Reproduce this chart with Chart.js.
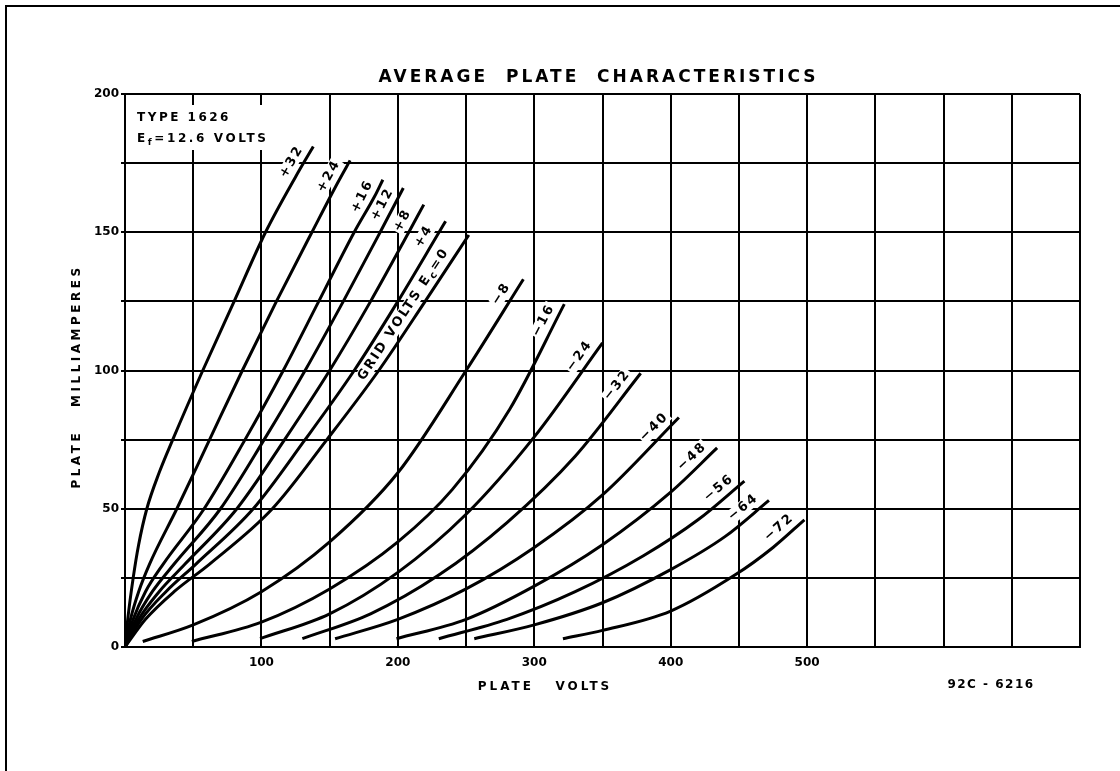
<!DOCTYPE html>
<html><head><meta charset="utf-8">
<script src="https://cdn.jsdelivr.net/npm/chart.js@4/dist/chart.umd.min.js"></script>
<style>html,body{margin:0;padding:0;background:#fff;}canvas{display:block;}</style>
</head><body>
<canvas id="c" width="1120" height="771"></canvas>
<script>
// ---- data ----
const plateVoltLabels = [100, 200, 300, 400, 500];
const plateMaLabels = [0, 50, 100, 150, 200];
const gridVoltLabels = ['+32','+24','+16','+12','+8','+4','0','-8','-16','-24','-32','-40','-48','-56','-64','-72'];

const v_p32 = [0, 2, 6, 10, 16, 25, 35, 57, 80, 103, 125, 138];
const i_p32 = [0, 10, 25, 37, 50, 63, 75, 100, 125, 150, 170, 181];
const v_p24 = [0, 4, 10, 18, 38, 62, 86, 111, 137, 156, 165];
const i_p24 = [0, 10, 20, 30, 50, 75, 100, 125, 150, 168, 176];
const v_p16 = [0, 6, 15, 28, 58, 88, 116, 142, 168, 183, 189];
const i_p16 = [0, 10, 20, 30, 50, 75, 100, 125, 150, 163, 169];
const v_p12 = [0, 8, 20, 36, 70, 102, 132, 160, 187, 204];
const i_p12 = [0, 10, 20, 30, 50, 75, 100, 125, 150, 166];
const v_p8  = [0, 10, 25, 44, 82, 117, 150, 180, 208, 219];
const i_p8  = [0, 10, 20, 30, 50, 75, 100, 125, 150, 160];
const v_p4  = [0, 12, 30, 52, 94, 132, 168, 200, 229, 235];
const i_p4  = [0, 10, 20, 30, 50, 75, 100, 125, 149, 154];
const v_0   = [0, 15, 36, 62, 108, 148, 186, 220, 252];
const i_0   = [0, 10, 20, 30, 50, 75, 100, 125, 149];
const v_m8  = [13, 50, 100, 150, 200, 250, 292];
const i_m8  = [2, 8, 20, 38, 63, 100, 133];
const v_m16 = [49, 100, 150, 200, 240, 282, 322];
const i_m16 = [2, 9, 21, 38, 57, 86, 124];
const v_m24 = [99, 150, 200, 250, 300, 350];
const i_m24 = [3, 12, 27, 48, 76, 110];
const v_m32 = [130, 180, 230, 280, 330, 378];
const i_m32 = [3, 12, 26, 45, 69, 99];
const v_m40 = [154, 200, 250, 300, 350, 406];
const i_m40 = [3, 10, 21, 36, 55, 83];
const v_m48 = [199, 250, 300, 350, 400, 434];
const i_m48 = [3, 10, 22, 37, 56, 72];
const v_m56 = [230, 280, 330, 380, 420, 454];
const i_m56 = [3, 10, 20, 33, 46, 60];
const v_m64 = [256, 300, 350, 400, 440, 472];
const i_m64 = [3, 8, 16, 28, 40, 53];
const v_m72 = [321, 350, 400, 447, 475, 498];
const i_m72 = [3, 6, 13, 26, 36, 46];

const curveVolts = [v_p32, v_p24, v_p16, v_p12, v_p8, v_p4, v_0, v_m8, v_m16, v_m24, v_m32, v_m40, v_m48, v_m56, v_m64, v_m72];
const curveMa    = [i_p32, i_p24, i_p16, i_p12, i_p8, i_p4, i_0, i_m8, i_m16, i_m24, i_m32, i_m40, i_m48, i_m56, i_m64, i_m72];

const FONT = '"DejaVu Sans", sans-serif';

const datasets = curveVolts.map((vs, k) => ({
  label: gridVoltLabels[k],
  data: vs.map((v, j) => ({x: v, y: curveMa[k][j]})),
  showLine: true,
  borderColor: '#000',
  borderWidth: 3,
  pointRadius: 0,
  fill: false,
  cubicInterpolationMode: 'monotone'
}));

function setFont(ctx, size, spacing) {
  ctx.font = 'bold ' + size + 'px ' + FONT;
  if ('letterSpacing' in ctx) ctx.letterSpacing = (spacing || 0) + 'px';
}

function partsWidth(ctx, parts, size, spacing) {
  let total = 0;
  parts.forEach(p => {
    setFont(ctx, p[1] ? Math.round(size * 0.75) : size, spacing);
    total += ctx.measureText(p[0]).width;
  });
  return total;
}

function drawParts(ctx, parts, size, spacing, x, y, align) {
  const total = partsWidth(ctx, parts, size, spacing);
  let cx = align === 'center' ? x - total / 2 : x;
  ctx.textAlign = 'left';
  parts.forEach(p => {
    setFont(ctx, p[1] ? Math.round(size * 0.75) : size, spacing);
    ctx.fillText(p[0], cx, p[1] ? y + size * 0.3 : y);
    cx += ctx.measureText(p[0]).width;
  });
}

function labelParts(k) {
  const g = gridVoltLabels[k];
  if (g === '0') return [['GRID VOLTS E', false], ['c', true], ['=0', false]];
  return [[g.replace('-', '\u2212'), false]];
}

function labelPlacement(chart, k) {
  const pts = chart.getDatasetMeta(k).data;
  const a = pts[pts.length - 1], b = pts[pts.length - 2];
  let dx = b.x - a.x, dy = b.y - a.y;
  const len = Math.hypot(dx, dy); dx /= len; dy /= len;
  let nx = dy, ny = -dx;
  if (nx > 0) { nx = -nx; ny = -ny; }
  const isZero = gridVoltLabels[k] === '0';
  const along = isZero ? 102 : 24;
  const perp = 11;
  return {
    cx: a.x + dx * along + nx * perp,
    cy: a.y + dy * along + ny * perp,
    ang: Math.atan2(-dy, -dx)
  };
}

const LABEL_SIZE = 13, LABEL_SPACING = 2;

const textPlugin = {
  id: 'texts',
  beforeDatasetsDraw(chart) {
    const ctx = chart.ctx;
    const ca = chart.chartArea;
    ctx.save();
    ctx.fillStyle = '#fff';
    // blank box behind the type note
    ctx.fillRect(ca.left + 3, ca.top + 11, 150, 45);
    // white ground behind curve labels (breaks the grid lines like the drawing)
    chart.data.datasets.forEach((ds, k) => {
      const p = labelPlacement(chart, k);
      const w = partsWidth(ctx, labelParts(k), LABEL_SIZE, LABEL_SPACING);
      ctx.save();
      ctx.translate(p.cx, p.cy);
      ctx.rotate(p.ang);
      ctx.fillStyle = '#fff';
      ctx.fillRect(-w / 2 - 1, -7, w + 2, 14);
      ctx.restore();
    });
    ctx.restore();
  },
  afterDraw(chart) {
    const ctx = chart.ctx;
    const ca = chart.chartArea;
    ctx.save();
    ctx.fillStyle = '#000';
    ctx.strokeStyle = '#000';
    // outer frame (left and top edges)
    ctx.lineWidth = 2;
    ctx.beginPath(); ctx.moveTo(6, 771); ctx.lineTo(6, 6); ctx.lineTo(1120, 6); ctx.stroke();

    ctx.textBaseline = 'middle';
    // title
    setFont(ctx, 17, 3);
    ctx.textAlign = 'center';
    ctx.fillText('AVERAGE  PLATE  CHARACTERISTICS', (ca.left + ca.right) / 2 - 4, ca.top - 16);

    // type note
    setFont(ctx, 12, 2.5);
    ctx.textAlign = 'left';
    ctx.fillText('TYPE 1626', ca.left + 12, ca.top + 24);
    drawParts(ctx, [['E', false], ['f', true], ['=12.6 VOLTS', false]], 12, 2.6, ca.left + 12, ca.top + 45, 'left');

    // x axis title
    setFont(ctx, 12, 3);
    ctx.textAlign = 'center';
    ctx.fillText('PLATE   VOLTS', ca.left + 420, ca.bottom + 40);
    // drawing number
    setFont(ctx, 12, 1.5);
    ctx.fillText('92C - 6216', ca.left + 866, ca.bottom + 38);

    // y axis title
    ctx.save();
    ctx.translate(77, (ca.top + ca.bottom) / 2 + 6);
    ctx.rotate(-Math.PI / 2);
    setFont(ctx, 12, 3.5);
    ctx.textAlign = 'center';
    ctx.fillText('PLATE   MILLIAMPERES', 0, 0);
    ctx.restore();

    // curve labels along the top ends
    chart.data.datasets.forEach((ds, k) => {
      const p = labelPlacement(chart, k);
      ctx.save();
      ctx.translate(p.cx, p.cy);
      ctx.rotate(p.ang);
      ctx.textBaseline = 'middle';
      ctx.fillStyle = '#000';
      drawParts(ctx, labelParts(k), LABEL_SIZE, LABEL_SPACING, 0, 0, 'center');
      ctx.restore();
    });
    ctx.restore();
  }
};

new Chart(document.getElementById('c'), {
  type: 'scatter',
  data: { datasets },
  options: {
    responsive: false,
    animation: false,
    devicePixelRatio: 1,
    layout: { padding: { left: 0, right: 40, top: 94, bottom: 0 } },
    plugins: { legend: { display: false }, tooltip: { enabled: false }, title: { display: false } },
    scales: {
      x: {
        type: 'linear', min: 0, max: 700,
        afterFit: s => { s.height = 124; },
        ticks: {
          stepSize: 50, autoSkip: false, maxRotation: 0, padding: 9, color: '#000',
          font: { family: FONT, size: 12, weight: 'bold' },
          callback: v => plateVoltLabels.includes(v) ? String(v) : ''
        },
        grid: { color: '#000', lineWidth: 2, drawTicks: false },
        border: { display: true, color: '#000', width: 2 }
      },
      y: {
        type: 'linear', min: 0, max: 200,
        afterFit: s => { s.width = 125; },
        ticks: {
          stepSize: 25, autoSkip: false, padding: 2, color: '#000',
          font: { family: FONT, size: 12, weight: 'bold' },
          callback: v => plateMaLabels.includes(v) ? String(v) : ''
        },
        grid: { color: '#000', lineWidth: 2, drawTicks: true, tickLength: 4 },
        border: { display: true, color: '#000', width: 2 }
      }
    }
  },
  plugins: [textPlugin]
});
</script>
</body></html>
